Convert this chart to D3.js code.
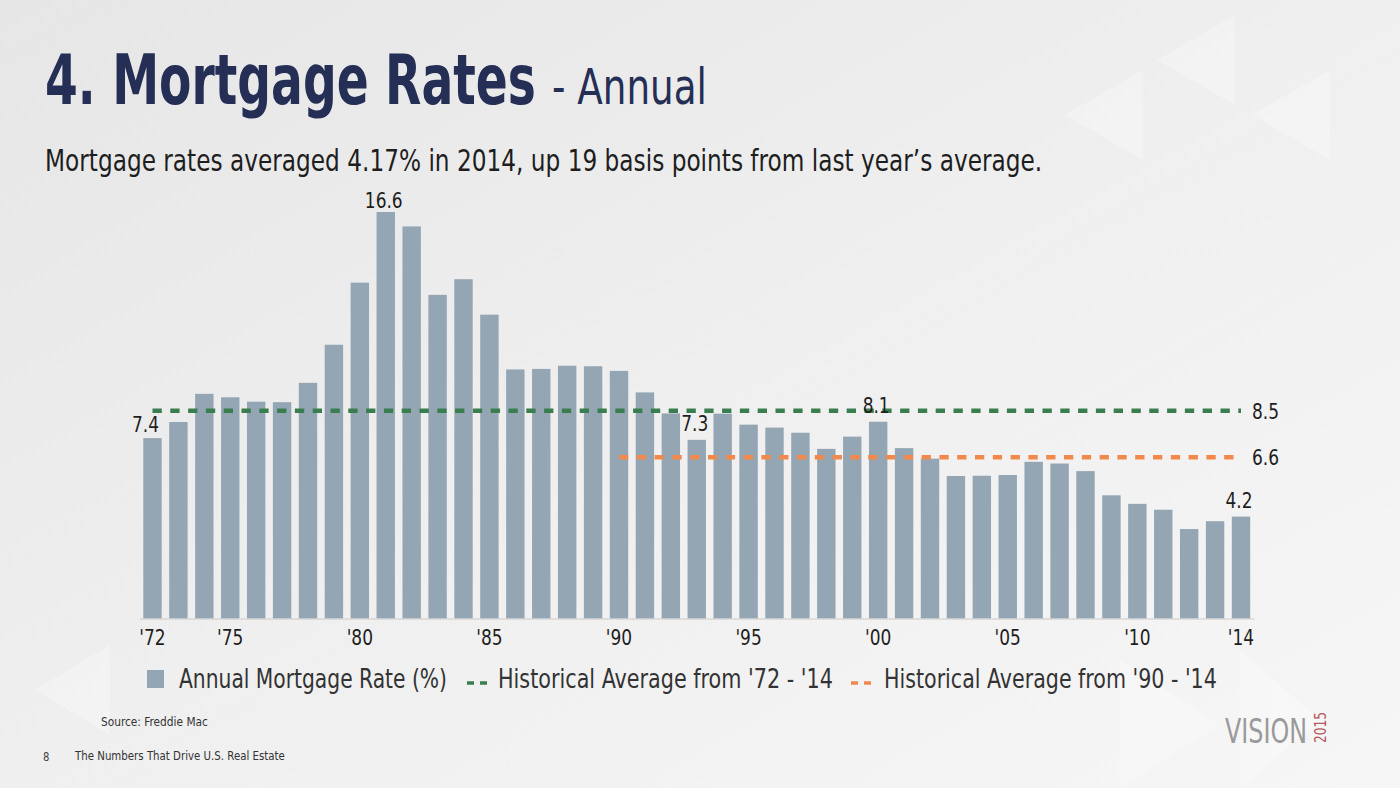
<!DOCTYPE html>
<html>
<head>
<meta charset="utf-8">
<script src="https://cdn.jsdelivr.net/npm/d3@7/dist/d3.min.js"></script>
<style>
  html, body { margin: 0; padding: 0; background: #eeeeee; }
  svg { display: block; }
  text { font-family: "Liberation Sans Narrow", "DejaVu Sans Condensed", "Liberation Sans", sans-serif; }
</style>
</head>
<body>
<svg id="chart" width="1400" height="788"></svg>
<script>
// ---------------- DATA ----------------
const years = d3.range(1972, 2015);
const rates = [7.38, 8.04, 9.19, 9.05, 8.87, 8.85, 9.64, 11.20, 13.74, 16.63,
               16.04, 13.24, 13.88, 12.43, 10.19, 10.21, 10.34, 10.32, 10.13, 9.25,
               8.39, 7.31, 8.38, 7.93, 7.81, 7.60, 6.94, 7.44, 8.05, 6.97,
               6.54, 5.83, 5.84, 5.87, 6.41, 6.34, 6.03, 5.04, 4.69, 4.45,
               3.66, 3.98, 4.17];
const tickYears = [1972, 1975, 1980, 1985, 1990, 1995, 2000, 2005, 2010, 2014];
const calloutYears = [1972, 1981, 1993, 2000, 2014];
const avgValues = [8.5, 6.6];
const avgStartYears = [1972, 1990];
const avgEndYear = 2014;
const legendLabels = ["Annual Mortgage Rate (%)", "Historical Average from '72 - '14", "Historical Average from '90 - '14"];
const titleMain = "4. Mortgage Rates";
const titleSub = "- Annual";
const subtitle = "Mortgage rates averaged 4.17% in 2014, up 19 basis points from last year\u2019s average.";
const sourceText = "Source: Freddie Mac";
const pageNum = "8";
const footerText = "The Numbers That Drive U.S. Real Estate";

// ---------------- STYLE ----------------
const barColor = "#94a6b4";
const avgColors = ["#3a7d4f", "#f0894b"];
const navy = "#252e55";
const narrow = 0.86;

const svg = d3.select("#chart");

// helper: text compressed horizontally, either to a fixed width or by a fixed factor
function addText(parent, x, y, str, size, opts) {
  opts = opts || {};
  const t = parent.append("text")
    .attr("font-size", size)
    .attr("fill", opts.fill || "#1e1e1e")
    .attr("text-anchor", opts.anchor || "start")
    .text(str);
  if (opts.weight) t.attr("font-weight", opts.weight);
  if (opts.family) t.attr("font-family", opts.family);
  let sx = opts.sx || narrow;
  if (opts.width) sx = opts.width / t.node().getComputedTextLength();
  t.attr("transform", `translate(${x},${y}) scale(${sx},1)`);
  return t;
}

// background
const defs = svg.append("defs");
const bg = defs.append("linearGradient").attr("id", "bg")
  .attr("x1", "0").attr("y1", "0").attr("x2", "1").attr("y2", "1");
bg.append("stop").attr("offset", "0").attr("stop-color", "#e6e6e7");
bg.append("stop").attr("offset", "0.55").attr("stop-color", "#f0f0f0");
bg.append("stop").attr("offset", "1").attr("stop-color", "#f6f6f6");
svg.append("rect").attr("width", 1400).attr("height", 788).attr("fill", "url(#bg)");

// faint decorative triangles
const tri = svg.append("g").attr("fill", "#ffffff").attr("opacity", 0.28);
[[1157,60,1235,15,1235,105],[1065,115,1143,70,1143,160],[1252,115,1330,70,1330,160],
 [1120,660,1120,788,1220,725],[1240,650,1240,788,1320,720],[35,690,110,645,110,735]]
  .forEach(p => tri.append("polygon").attr("points", `${p[0]},${p[1]} ${p[2]},${p[3]} ${p[4]},${p[5]}`));

// ---------------- SCALES ----------------
const step = 25.92;
const x = d3.scaleBand()
  .domain(years)
  .range([152.5 - step / 2, 1241 + step / 2])
  .paddingInner(0.29)
  .paddingOuter(0.145);
const y = d3.scaleLinear().domain([0, 16.63]).range([618.5, 212]);
const cx = yr => x(yr) + x.bandwidth() / 2;

// bars
svg.append("g").selectAll("rect")
  .data(years.map((yr, i) => ({ yr, v: rates[i] })))
  .join("rect")
  .attr("x", d => x(d.yr))
  .attr("y", d => y(d.v))
  .attr("width", x.bandwidth())
  .attr("height", d => y(0) - y(d.v))
  .attr("fill", barColor);

// axis
const axis = d3.axisBottom(x)
  .tickValues(tickYears)
  .tickSize(0)
  .tickSizeOuter(0)
  .tickPadding(11)
  .tickFormat(d => "'" + String(d).slice(2));
const gx = svg.append("g").attr("transform", `translate(0,${y(0)})`).call(axis);
gx.select(".domain").attr("stroke", "#c9c9c9").attr("stroke-width", 1.2);
gx.selectAll("text").attr("font-size", 22).attr("fill", "#1e1e1e")
  .attr("font-family", "'Liberation Sans Narrow', 'DejaVu Sans Condensed', sans-serif")
  .attr("transform", `scale(${narrow},1)`);

// average lines
avgValues.forEach((v, i) => {
  svg.append("line")
    .attr("x1", cx(avgStartYears[i])).attr("x2", cx(avgEndYear))
    .attr("y1", y(v)).attr("y2", y(v))
    .attr("stroke", avgColors[i]).attr("stroke-width", 4.5)
    .attr("stroke-dasharray", "9.3 8.5");
  addText(svg, cx(avgEndYear) + 11, y(v) + 8, v.toFixed(1), 22);
});

// callouts
calloutYears.forEach((yr, k) => {
  const v = rates[years.indexOf(yr)];
  addText(svg, cx(yr) + (k === 0 ? -7 : -2), y(v) - (k === 0 ? 6 : (k === 1 ? 4 : 9)),
          v.toFixed(1), 22, { anchor: "middle" });
});

// legend
const lg = svg.append("g");
lg.append("rect").attr("x", 147).attr("y", 670).attr("width", 17).attr("height", 18).attr("fill", barColor);
addText(lg, 179, 688, legendLabels[0], 27, { fill: "#333", width: 268 });
[[467, 498, 335], [851, 884, 333]].forEach((p, i) => {
  lg.append("line").attr("x1", p[0]).attr("x2", p[0] + 21).attr("y1", 683).attr("y2", 683)
    .attr("stroke", avgColors[i]).attr("stroke-width", 3.5).attr("stroke-dasharray", "7 6");
  addText(lg, p[1], 688, legendLabels[i + 1], 27, { fill: "#333", width: p[2] });
});

// titles
addText(svg, 45, 104, titleMain, 70, { fill: navy, weight: "bold", width: 491 });
addText(svg, 552, 104, titleSub, 50, { fill: navy, width: 155 });
addText(svg, 45, 171, subtitle, 31, { width: 998 });

// footer
addText(svg, 101, 726, sourceText, 13, { fill: "#333", width: 107 });
addText(svg, 43, 761, pageNum, 13, { fill: "#444" });
addText(svg, 75, 760, footerText, 13, { fill: "#333", width: 210 });

// VISION 2015 logo
addText(svg, 1225, 743, "VISION", 34, { fill: "#9a9a9a", weight: 300, family: "Inter, Lato, 'Open Sans', sans-serif", width: 82 });
svg.append("text").attr("transform", "translate(1326,743) rotate(-90)")
  .attr("font-size", 15).attr("fill", "#b8575c")
  .attr("textLength", 31).attr("lengthAdjust", "spacingAndGlyphs").text("2015");
</script>
</body>
</html>
